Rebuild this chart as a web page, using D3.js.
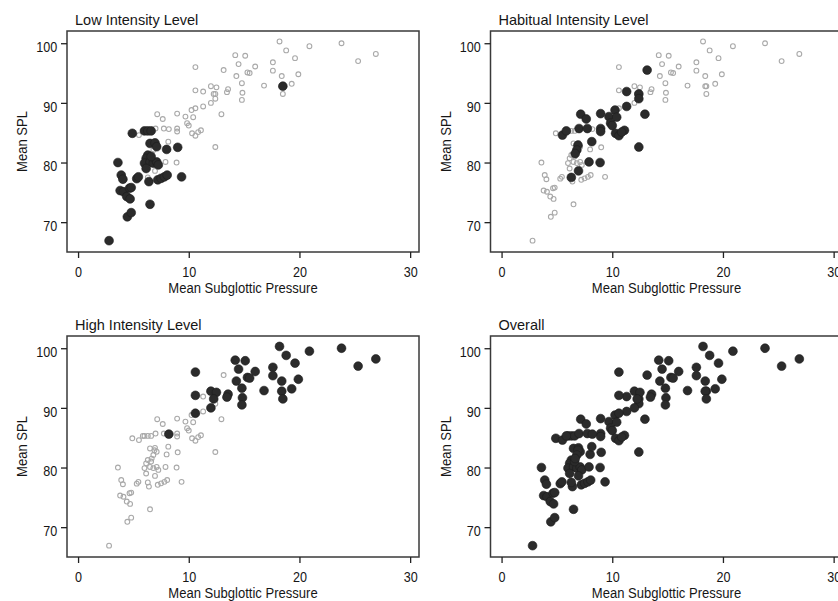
<!DOCTYPE html>
<html>
<head>
<meta charset="utf-8">
<script src="https://cdn.jsdelivr.net/npm/d3@7"></script>
<style>
  body { margin: 0; background: #fff; }
  text { font-family: "Liberation Sans", Arial, Helvetica, sans-serif; fill: #161616; }
</style>
</head>
<body>
<script>
// [mean subglottic pressure, mean SPL] per intensity level
var lowPoints = [
  [2.8, 66.9], [3.6, 80.0], [3.9, 77.9], [4.05, 77.2], [3.8, 75.3], [4.1, 75.1],
  [4.4, 74.3], [4.7, 73.9], [4.65, 75.7], [4.8, 75.8], [4.45, 70.9], [4.8, 71.6],
  [5.3, 77.3], [5.45, 77.6], [4.9, 84.9], [6.5, 73.0], [6.4, 76.8], [7.2, 77.1],
  [7.5, 77.35], [7.8, 77.6], [8.05, 77.9], [9.35, 77.6], [6.0, 85.3], [6.3, 85.3],
  [6.6, 85.3], [6.5, 83.2], [6.95, 83.3], [7.1, 82.65], [8.0, 82.2], [9.0, 82.55],
  [6.3, 81.25], [6.15, 80.7], [6.0, 79.9], [6.5, 80.1], [6.8, 79.9], [7.1, 80.1],
  [7.25, 79.6], [6.15, 79.0], [6.6, 81.0], [18.5, 92.8]
];
var habitualPoints = [
  [13.15, 95.5], [11.3, 91.9], [12.4, 91.5], [12.4, 90.7], [11.3, 89.4], [12.95, 88.1],
  [12.4, 82.6], [7.15, 88.1], [7.65, 87.3], [8.95, 88.2], [9.7, 87.7], [10.25, 88.8],
  [10.4, 87.6], [9.85, 86.6], [10.0, 86.2], [8.95, 85.7], [8.95, 85.2], [10.3, 84.9],
  [10.6, 84.5], [11.1, 85.4], [10.85, 85.1], [7.0, 85.7], [7.75, 85.7], [5.5, 84.6],
  [5.85, 85.3], [8.15, 83.5], [6.9, 82.9], [6.8, 82.1], [6.65, 81.5], [7.9, 80.1],
  [8.9, 80.0], [6.95, 78.6], [6.3, 77.5]
];
var highPoints = [
  [10.6, 96.0], [10.6, 92.1], [10.6, 89.1], [8.2, 85.6], [12.0, 92.8], [12.5, 92.6],
  [12.25, 91.5], [12.0, 90.0], [13.55, 92.3], [13.45, 91.8], [14.2, 98.0], [14.5, 96.5],
  [14.3, 94.5], [15.1, 97.9], [14.8, 93.3], [14.85, 91.7], [14.8, 90.5], [15.3, 95.1],
  [15.5, 95.0], [16.0, 96.1], [16.8, 92.9], [17.6, 96.8], [17.6, 95.4], [18.2, 100.3],
  [18.8, 98.8], [18.4, 94.5], [18.4, 92.8], [18.5, 91.5], [19.3, 93.2], [19.6, 97.5],
  [19.9, 94.8], [20.9, 99.5], [23.8, 100.0], [25.3, 97.0], [26.9, 98.2]
];

var xTicks = [0, 10, 20, 30];
var yTicks = [70, 80, 90, 100];

var levels = { low: lowPoints, habitual: habitualPoints, high: highPoints };

var panels = [
  { title: "Low Intensity Level",      left: 67,    top: 31,  highlight: "low" },
  { title: "Habitual Intensity Level", left: 490.5, top: 31,  highlight: "habitual" },
  { title: "High Intensity Level",     left: 67,    top: 336, highlight: "high" },
  { title: "Overall",                  left: 490.5, top: 336, highlight: "all" }
];

var pw = 352, ph = 221;

var svg = d3.select("body").append("svg")
    .attr("width", 838)
    .attr("height", 601);

var x = d3.scaleLinear().domain([-1, 30.8]).range([0, pw]);
var y = d3.scaleLinear().domain([65, 102.05]).range([ph, 0]);

panels.forEach(function(p) {
  var g = svg.append("g").attr("transform", "translate(" + p.left + "," + p.top + ")");

  g.append("rect")
    .attr("width", pw)
    .attr("height", ph)
    .attr("fill", "none")
    .attr("stroke", "#3a3a3a")
    .attr("stroke-width", 1.5);

  var grey = [], black = [];
  Object.keys(levels).forEach(function(k) {
    if (p.highlight === "all" || p.highlight === k) black = black.concat(levels[k]);
    else grey = grey.concat(levels[k]);
  });

  g.append("g").selectAll("circle")
    .data(grey)
    .enter().append("circle")
    .attr("cx", function(d) { return x(d[0]); })
    .attr("cy", function(d) { return y(d[1]); })
    .attr("r", 2.4)
    .attr("fill", "none")
    .attr("stroke", "#a9a9a9")
    .attr("stroke-width", 1.1);

  g.append("g").selectAll("circle")
    .data(black)
    .enter().append("circle")
    .attr("cx", function(d) { return x(d[0]); })
    .attr("cy", function(d) { return y(d[1]); })
    .attr("r", 4.4)
    .attr("fill", "#2b2b2b")
    .attr("stroke", "#1c1c1c")
    .attr("stroke-width", 0.6);

  // axes
  var xa = g.append("g")
    .attr("transform", "translate(0," + ph + ")")
    .call(d3.axisBottom(x).tickValues(xTicks).tickSize(6).tickPadding(8));
  xa.select(".domain").remove();
  xa.selectAll("line").attr("stroke", "#222").attr("stroke-width", 1.3);
  xa.selectAll("text")
    .attr("font-size", 15)
    .attr("transform", "scale(0.84,1)");

  var ya = g.append("g")
    .call(d3.axisLeft(y).tickValues(yTicks).tickSize(6).tickPadding(5.5));
  ya.select(".domain").remove();
  ya.selectAll("line").attr("stroke", "#222").attr("stroke-width", 1.3);
  ya.selectAll("text")
    .attr("font-size", 15)
    .attr("dy", "0.55em")
    .attr("transform", "scale(0.84,1)");

  g.selectAll(".tick text").attr("font-family", '"Liberation Sans", Arial, sans-serif').attr("fill", "#161616");

  // axis titles
  g.append("g")
    .attr("transform", "translate(" + (pw / 2) + "," + (ph + 41) + ") scale(0.87,1)")
    .append("text")
    .attr("text-anchor", "middle")
    .attr("font-size", 15)
    .text("Mean Subglottic Pressure");

  g.append("g")
    .attr("transform", "translate(-40," + (ph / 2) + ") rotate(-90) scale(0.87,1)")
    .append("text")
    .attr("text-anchor", "middle")
    .attr("font-size", 15)
    .text("Mean SPL");

  g.append("text")
    .attr("x", 8)
    .attr("y", -6)
    .attr("font-size", 14.5)
    .text(p.title);
});
</script>
</body>
</html>
